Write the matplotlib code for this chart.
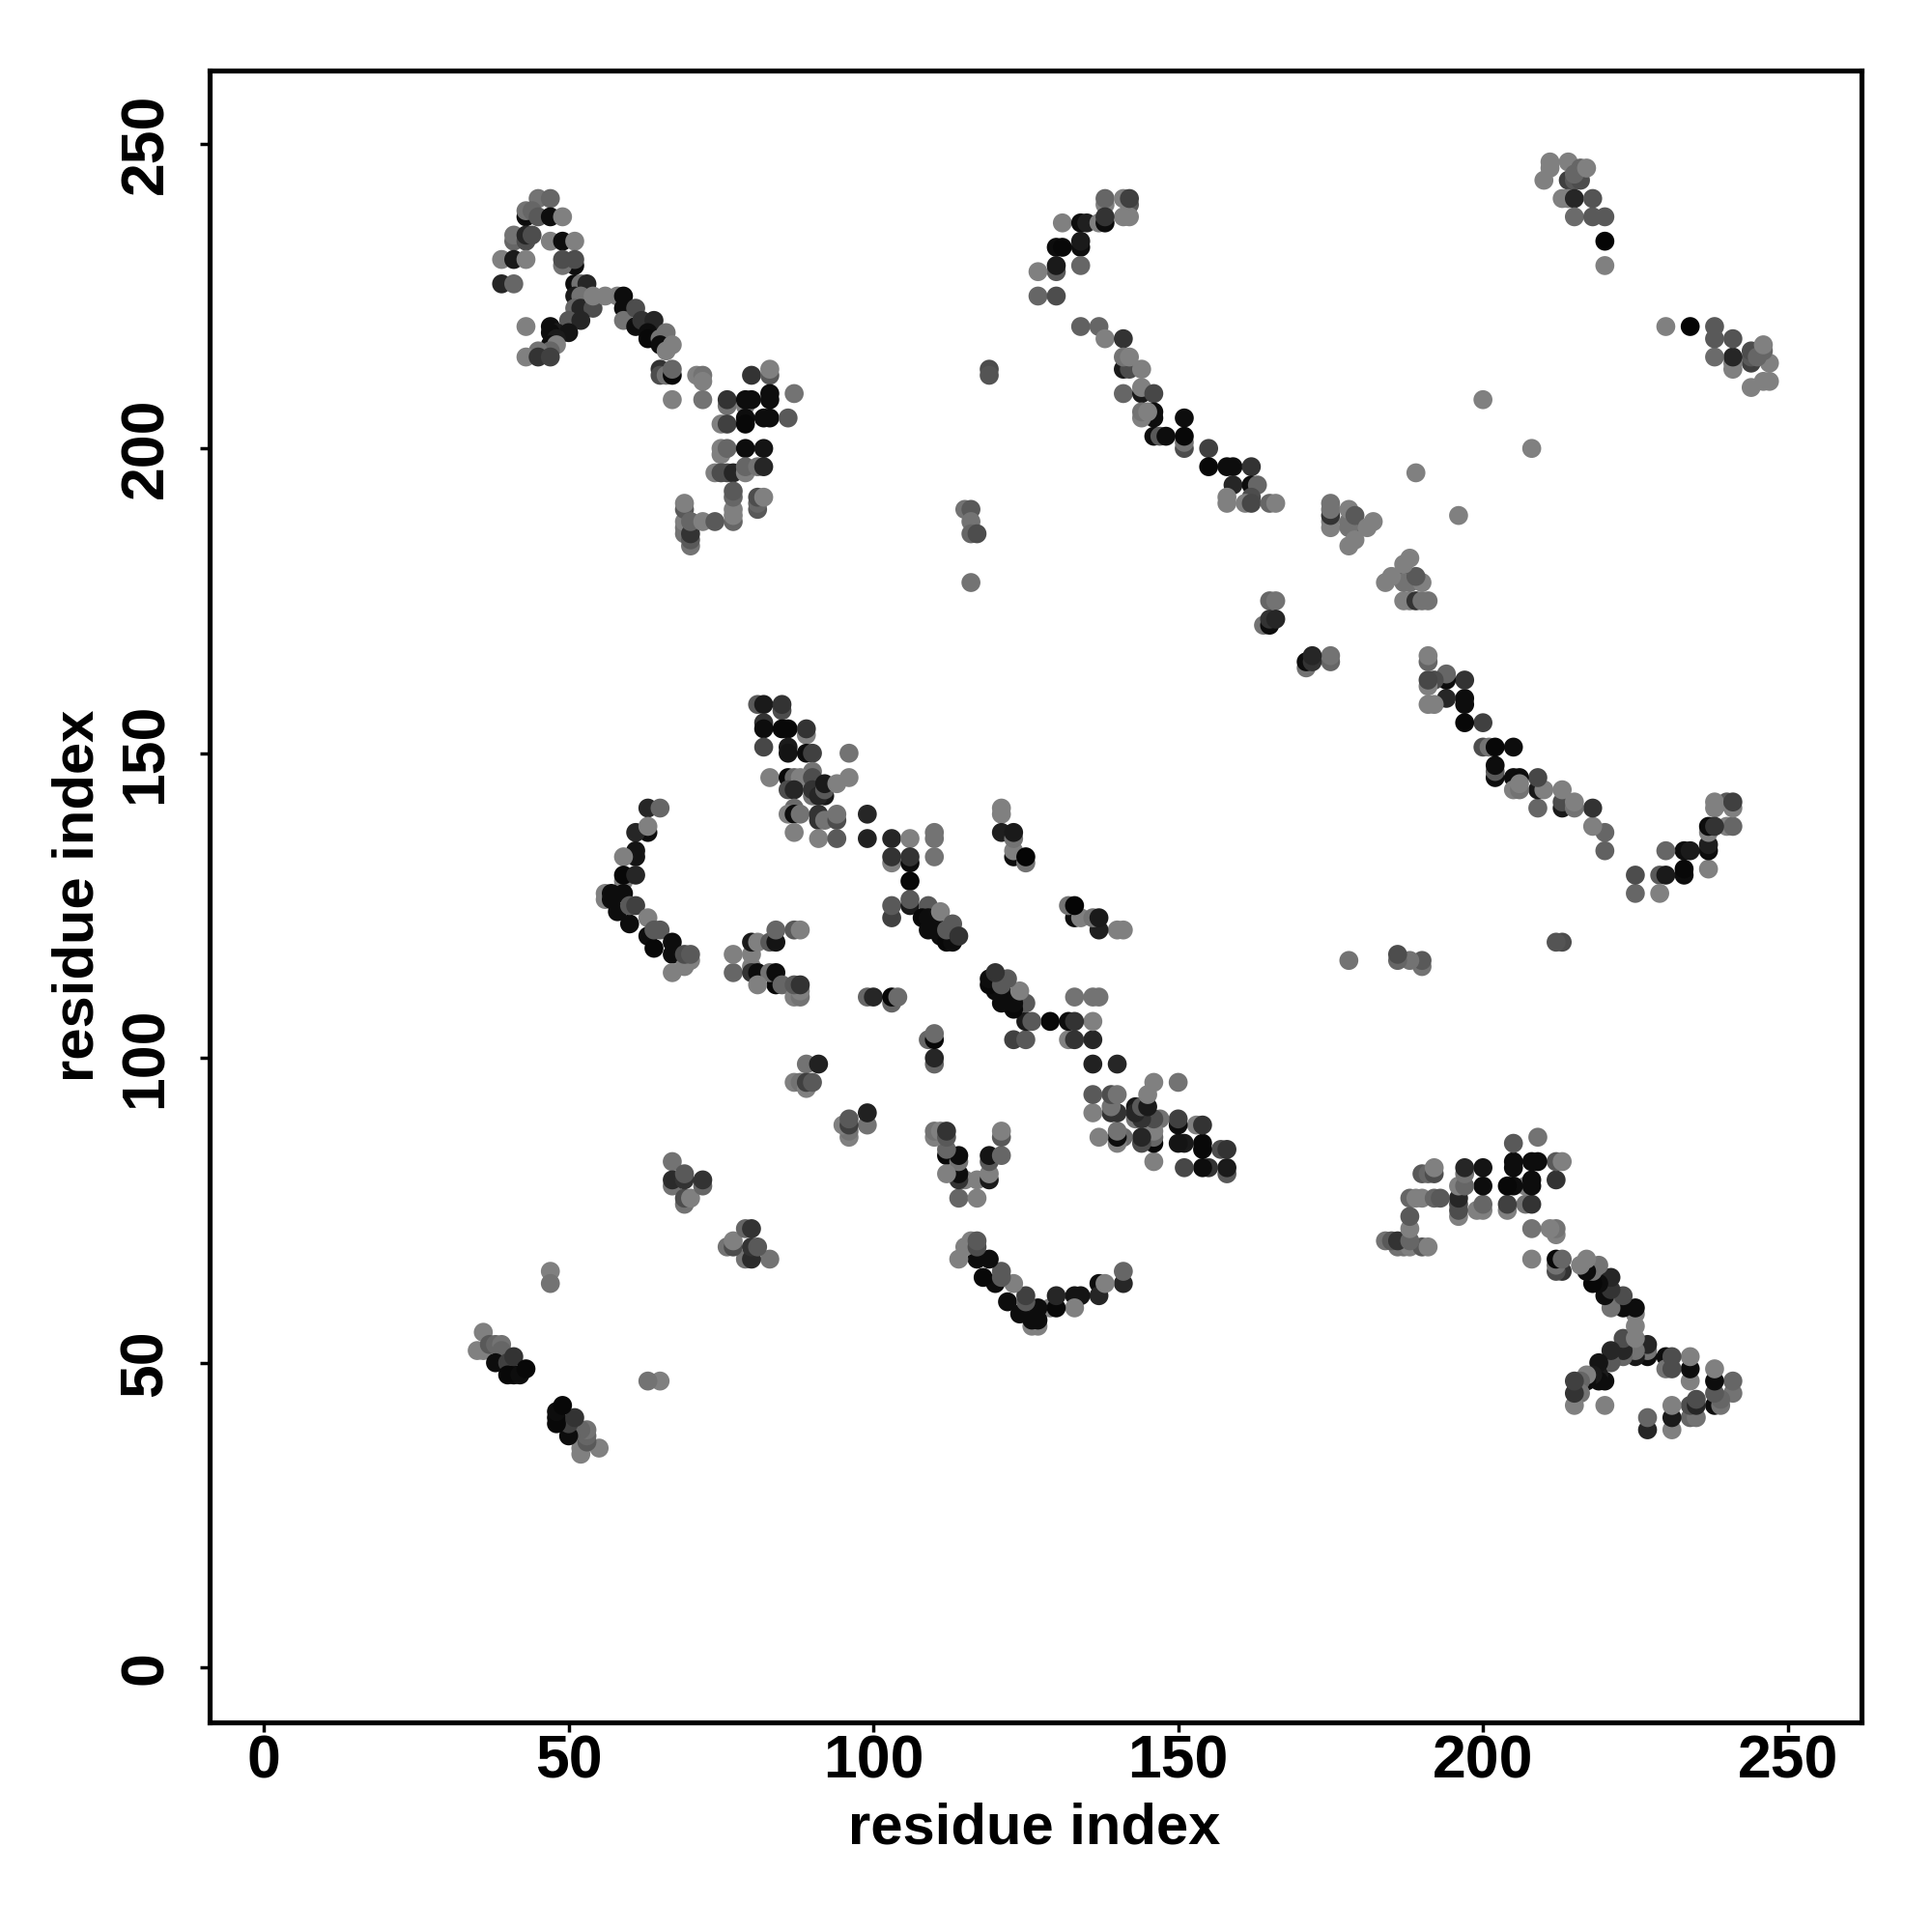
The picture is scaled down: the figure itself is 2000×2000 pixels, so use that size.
import numpy as np
import matplotlib
matplotlib.use('Agg')
import matplotlib.pyplot as plt

plt.rcParams['font.family'] = ['Liberation Sans', 'DejaVu Sans']

# contacts as (residue i, residue j, grey level), upper triangle only, the map is symmetric
near_36_52 = [(36,55,.5),(35,52,.5),(36,52,.5),(37,53,.35),(38,53,.4),(39,53,.45),(39,52,.4),
              (38,50,.05),(40,50,.25),(40,48,.03),(41,48,.03),(42,48,.05),(41,51,.2),(43,49,.03)]
near_47_64 = [(47,65,.5),(47,63,.45)]
near_67_80 = [(67,83,.45),(67,79,.45),(67,80,.17),(69,76,.45),(69,77,.3),(70,77,.5),(72,79,.4),
              (72,80,.2),(69,80,.2),(69,81,.35)]
near_88_97 = [(89,99,.45),(91,99,.13),(87,96,.5),(88,96,.45),(89,95,.5),(89,96,.25),(90,96,.35)]

left_top = [(45,241,.45),(47,241,.4),(43,238,.05),(43,239,.45),(44,239,.4),(45,238,.35),(47,238,.05),(49,238,.5),
            (41,234,.4),(41,235,.45),(43,234,.3),(43,235,.15),(44,235,.3),(47,234,.5),(49,234,.05),(51,234,.5),
            (39,231,.5),(41,231,.1),(43,231,.5),(51,230,.05),(49,230,.45),(49,231,.3),(51,231,.3),
            (39,227,.15),(41,227,.4),(51,227,.05),(52,227,.45),(53,227,.15),
            (51,225,.1),(52,225,.45),(51,223,.4),(52,223,.15),(54,223,.3),(54,225,.5),(56,225,.5),(58,225,.5)]
left_hook = [(50,221,.35),(52,221,.15),(43,220,.5),(47,220,.05),(48,219,.1),(50,219,.08),(47,219,.05),
             (48,218,.1),(47,217,.05),(48,217,.5),(47,216,.4),(45,216,.45),(43,215,.5),(45,215,.2),(47,215,.25)]
left_run = [(59,225,.05),(59,223,.05),(59,221,.45),(61,220,.05),(61,223,.3),(62,221,.2),(64,221,.15),
            (63,219,.05),(63,218,.03),(65,218,.45),(66,219,.45),(65,217,.05),(66,216,.5),(67,217,.5),
            (65,213,.2),(65,212,.3),(66,212,.45),(67,212,.03),(67,213,.4),(71,212,.5),(72,212,.45),(72,211,.5)]
left_block = [(80,212,.2),(83,212,.35),(83,213,.5),(87,209,.45),(67,208,.5),(72,208,.45),(76,207,.45),(76,208,.2),
              (79,207,.5),(79,208,.05),(80,208,.05),(83,208,.05),(83,209,.05),(75,204,.5),(76,204,.25),
              (79,205,.05),(79,204,.03),(82,205,.05),(83,205,.05),(86,205,.35),(75,199,.5),(75,200,.5),(76,200,.4),
              (79,200,.05),(82,200,.08),(74,196,.5),(75,196,.3),(76,196,.3),(77,196,.15),(79,196,.5),(79,197,.4),
              (81,197,.45),(82,197,.15)]
left_tail = [(77,188,.4),(77,189,.5),(77,190,.5),(77,192,.4),(77,193,.35),(81,190,.35),(81,191,.4),(81,192,.3),(82,192,.5),
             (69,186,.45),(69,187,.45),(69,188,.5),(69,190,.35),(69,191,.5),(70,184,.45),(70,185,.35),(70,186,.2),
             (70,188,.4),(72,188,.5),(74,188,.35)]

arc_upper = [(142,240,.35),(141,238,.5),(142,238,.5),(138,240,.5),(138,241,.4),(141,241,.5),(142,241,.25),
             (131,237,.5),(134,237,.05),(135,237,.12),(137,237,.5),(138,237,.05),(138,238,.2),
             (130,233,.05),(131,233,.03),(134,233,.05),(134,234,.1),(130,229,.35),(127,229,.5),(130,230,.1),(134,230,.4),
             (127,225,.4),(130,225,.3)]
arc_lower = [(134,220,.38),(137,220,.4),(138,218,.5),(141,218,.2),(141,213,.1),(142,213,.3),(141,215,.45),(142,215,.5),(144,213,.5),
             (141,209,.4),(144,209,.1),(144,210,.5),(146,209,.28),(146,206,.05),(146,205,.05),(144,205,.5),(144,206,.45),(145,206,.5),
             (151,205,.05),(146,202,.05),(147,202,.35),(148,202,.05),(151,200,.3),(151,201,.45),(151,202,.03),(155,200,.25),
             (155,197,.03),(158,197,.05),(159,197,.05),(162,197,.2),(159,194,.15),(162,194,.05),(163,194,.4),
             (158,192,.5),(162,192,.3),(158,191,.5),(161,191,.5),(162,191,.28),(165,191,.4),(166,191,.5)]
near_178_188 = [(175,187,.5),(175,188,.5),(175,189,.2),(175,190,.45),(175,191,.45),(178,184,.5),(179,187,.2),(178,187,.45),(178,188,.45),
                (178,190,.5),(179,189,.35),(179,185,.5),(181,187,.5),(182,188,.5)]
near_165_173 = [(165,175,.4),(166,175,.45),(164,171,.45),(165,171,.05),(165,172,.2),(166,172,.15)]
near_116_190 = [(119,213,.3),(119,212,.33),(115,190,.45),(116,190,.35),(116,188,.45),(116,186,.4),(117,186,.3),(116,178,.45)]
lone_points = [(200,208,.5),(189,196,.5)]

mid_block = [(81,158,.35),(82,158,.1),(85,157,.3),(85,158,.2),(82,155,.2),(82,154,.05),(85,154,.03),(86,154,.03),
             (89,153,.5),(89,154,.2),(82,151,.28),(86,151,.1),(86,150,.08),(89,150,.05),(90,150,.25),(96,150,.45),
             (90,147,.45),(83,146,.5),(86,146,.03),(87,146,.4),(88,146,.5),(90,146,.3),(96,146,.5),(86,144,.3),(87,144,.15),
             (90,143,.45),(90,144,.2),(92,143,.1),(91,143,.15),(92,144,.35),(92,145,.1),(94,145,.5),
             (87,141,.42),(86,140,.5),(87,140,.05),(88,140,.45),(91,140,.2),(91,139,.2),(92,139,.45),(94,139,.3),(94,140,.45),(99,140,.15),
             (87,137,.5),(91,136,.5),(94,136,.35),(99,136,.13),(103,136,.15),(106,136,.5),(110,136,.45),(110,137,.45)]
mid_column = [(103,132,.5),(103,133,.2),(106,132,.05),(106,133,.2),(110,133,.45),(106,129,.03),(103,123,.25),(103,125,.35),
              (106,125,.1),(106,126,.35)]
arc_63 = [(63,141,.15),(65,141,.4),(63,137,.05),(61,137,.15),(63,138,.5),(61,133,.08),(61,134,.08),(59,133,.5),
          (59,129,.5),(59,130,.03),(61,130,.15),(56,126,.5),(56,127,.5),(57,126,.05),(57,127,.05),(59,127,.05),
          (58,124,.05),(60,122,.05),(60,125,.35),(61,125,.25),(63,123,.5),(63,120,.05),(64,118,.03),(64,121,.35),(65,121,.35),
          (67,117,.05),(67,119,.05),(67,114,.5),(69,115,.5),(70,116,.5),(69,117,.3),(70,117,.35)]
block_80_115 = [(77,114,.4),(77,117,.5),(80,115,.5),(80,117,.5),(80,119,.1),(81,119,.5),(83,119,.35),(84,119,.08),(84,121,.4),
                (87,121,.35),(88,121,.5),(80,114,.2),(81,114,.05),(84,112,.03),(83,114,.45),(84,114,.05),(81,112,.5),
                (85,112,.4),(87,110,.5),(88,110,.45),(88,111,.5),(87,112,.35),(88,112,.2)]
near_100_110 = [(99,110,.4),(100,110,.15),(103,109,.4),(103,110,.03),(104,110,.42)]
near_122_137 = [(121,140,.5),(121,141,.5),(121,137,.12),(123,133,.05),(123,134,.5),(123,136,.45),(123,137,.1),(125,132,.45),(125,133,.02)]
diag_110_122 = [(109,125,.35),(108,123,.03),(109,123,.05),(109,121,.05),(110,122,.05),(111,124,.5),(111,120,.05),
                (112,119,.03),(113,119,.05),(112,121,.35),(113,122,.35),(114,120,.2)]

top_right = [(211,247,.5),(214,247,.5),(211,246,.5),(210,244,.5),(214,244,.25),(215,244,.35),(216,244,.3),(215,245,.4),
             (216,246,.4),(217,246,.5),(213,241,.5),(214,241,.5),(215,241,.15),(218,241,.33),(215,238,.42),(218,238,.35),
             (220,238,.35),(220,234,.02),(220,230,.5)]

groups = [near_36_52, near_47_64, near_67_80, near_88_97, left_top, left_hook, left_run, left_block, left_tail,
          arc_upper, arc_lower, near_178_188, near_165_173, near_116_190, lone_points, mid_block, mid_column,
          arc_63, block_80_115, near_100_110, near_122_137, diag_110_122, top_right]
contacts = np.array([c for g in groups for c in g])
res_i, res_j, shade = contacts[:, 0], contacts[:, 1], contacts[:, 2]

fig = plt.figure(figsize=(20, 20), dpi=100)
ax = fig.add_axes([217/2000, 1-1783/2000, 1710/2000, 1710/2000])

cols = [str(s) for s in shade]
ax.scatter(res_i, res_j, s=200, c=cols, linewidths=0, zorder=3)
ax.scatter(res_j, res_i, s=200, c=cols, linewidths=0, zorder=3)

ax.set_xlim(-8.9, 262.1)
ax.set_ylim(-9, 262)
ax.set_xticks([0, 50, 100, 150, 200, 250])
ax.set_yticks([0, 50, 100, 150, 200, 250])
for sp in ax.spines.values():
    sp.set_linewidth(3.7)
ax.tick_params(axis='both', length=7, width=2.5, labelsize=45)
ax.tick_params(axis='x', pad=1.5)
ax.tick_params(axis='y', pad=19)
for t in ax.get_xticklabels():
    t.set_fontweight('bold')
for t in ax.get_yticklabels():
    t.set_fontweight('bold')
    t.set_rotation(90)
    t.set_verticalalignment('center')

fig.text(1071/2000, 1-1893/2000, 'residue index', fontsize=43, fontweight='bold', ha='center', va='center')
fig.text(81/2000, 1-927/2000, 'residue index', fontsize=43, fontweight='bold', ha='center', va='center', rotation=90)

fig.savefig('out.png', dpi=100)
